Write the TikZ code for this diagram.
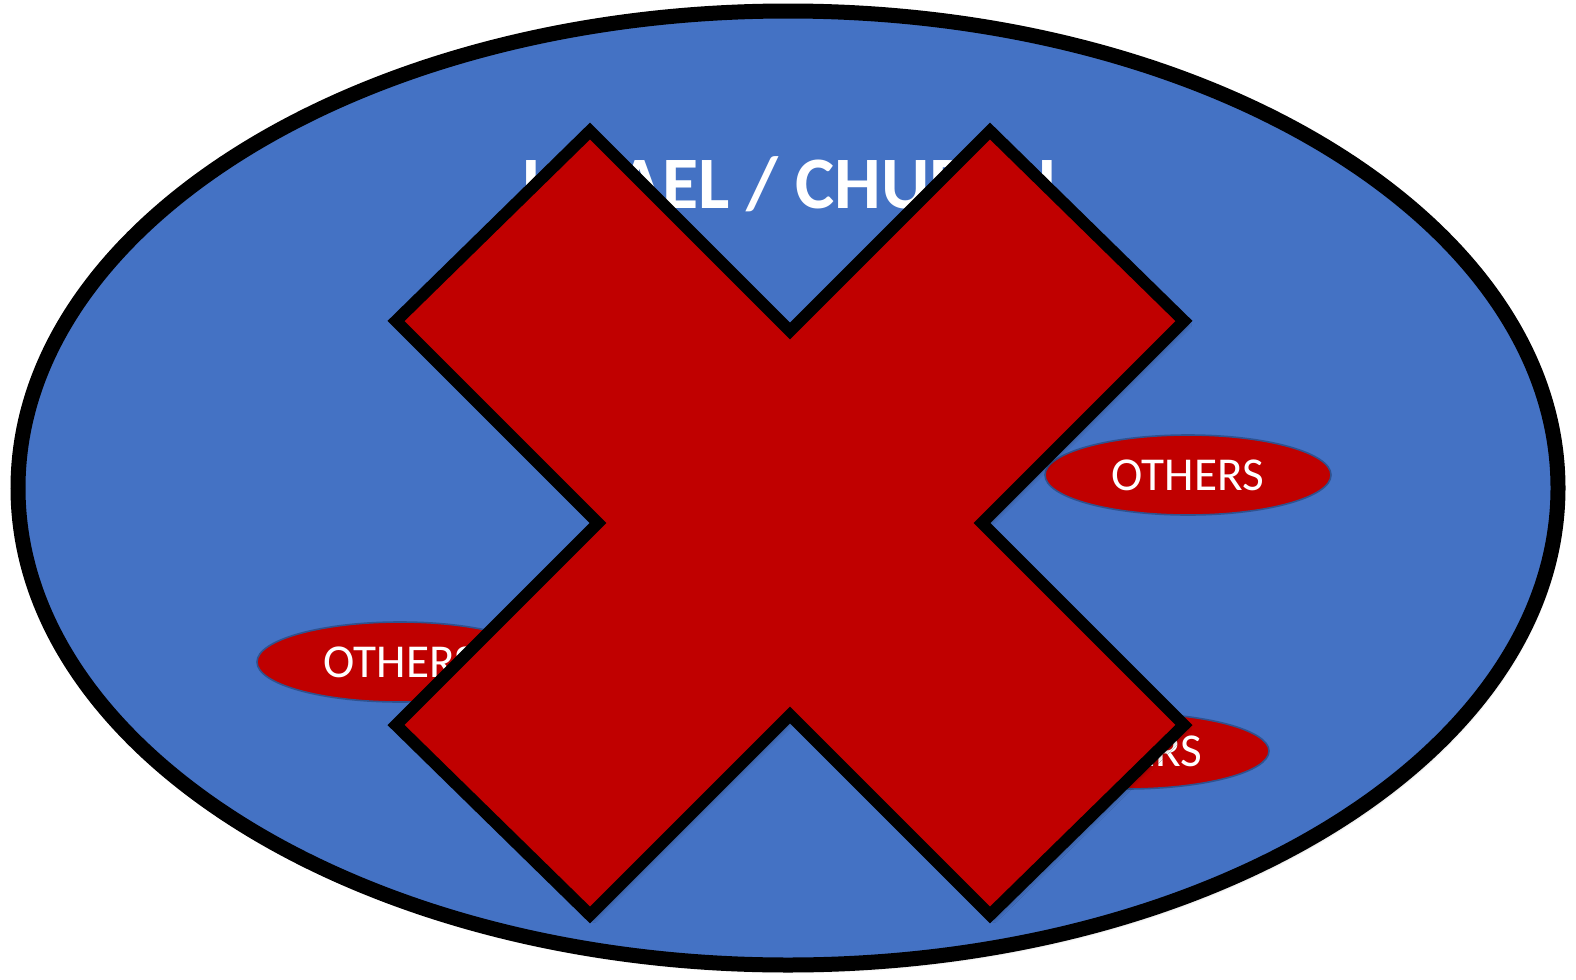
\documentclass[tikz,border=0pt]{standalone}
\usepackage{fontspec}
\setmainfont{Carlito}
\usetikzlibrary{shapes.geometric,shadows.blur}
\definecolor{bluefill}{HTML}{4472C4}
\definecolor{redfill}{HTML}{C00000}
\definecolor{blueedge}{HTML}{2F528F}
\tikzset{
  bigoval/.style={draw=black, line width=7.5pt, fill=bluefill,
    blur shadow={shadow xshift=1.5pt, shadow yshift=-2.5pt, shadow opacity=35, shadow blur steps=6}},
  smalloval/.style={draw=blueedge, line width=0.8pt, fill=redfill},
  otherstext/.style={text=white, font=\fontsize{23.6}{27}\selectfont, anchor=base, inner sep=0pt},
  titletext/.style={text=white, font=\fontsize{37}{42}\selectfont\bfseries, anchor=base, inner sep=0pt},
  crossshape/.style={draw=black, line width=6pt, fill=redfill, line join=miter,
    blur shadow={shadow xshift=2pt, shadow yshift=-2pt, shadow opacity=40, shadow blur steps=6}}
}
\begin{document}
\begin{tikzpicture}[x=0.5pt,y=-0.5pt]
\useasboundingbox (0,0) rectangle (1576,980);
% big ellipse
\path[bigoval] (788,488) ellipse [x radius=770, y radius=477];
\node[titletext] (title) at (789,208) {ISRAEL / CHURCH};
% small ellipses
\path[smalloval] (1188,475) ellipse [x radius=143, y radius=40];
\node[otherstext] (o1) at (1188,490) {OTHERS};
\path[smalloval] (400,662) ellipse [x radius=143, y radius=40];
\node[otherstext] (o2) at (400,677) {OTHERS};
\path[smalloval] (1126,751) ellipse [x radius=143, y radius=38];
\node[otherstext] (o3) at (1126,766) {OTHERS};
% big X
\path[crossshape] (590,131) -- (790,331) -- (990,131) -- (1184,321) -- (982,523)
  -- (1184,725) -- (990,915) -- (790,715) -- (590,915) -- (396,725) -- (598,523)
  -- (396,321) -- cycle;
\end{tikzpicture}
\end{document}
